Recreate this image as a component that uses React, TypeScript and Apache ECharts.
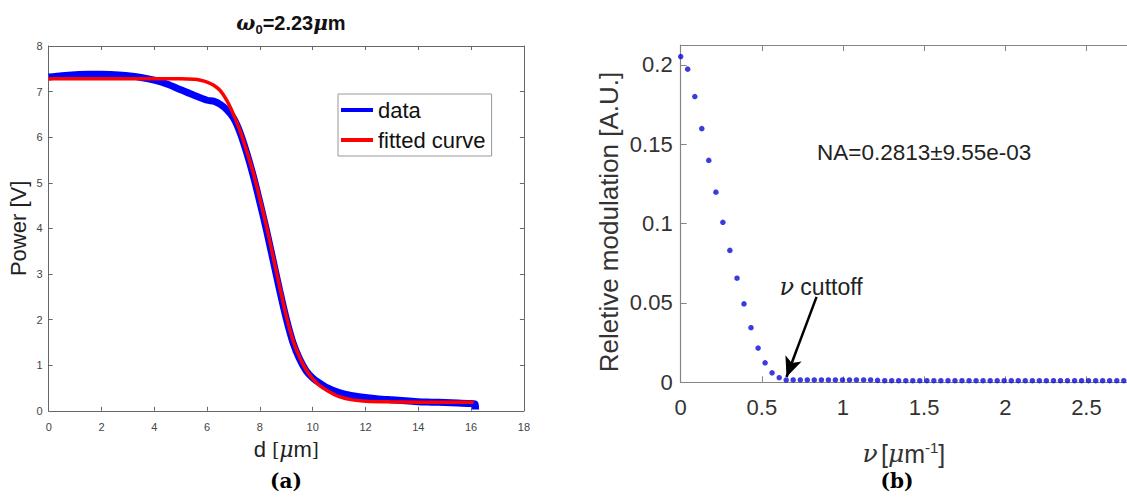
import React, { useEffect, useRef } from "react";
import * as echarts from "echarts";

const dataD = [0, 0.5, 1, 1.5, 2, 2.5, 3, 3.5, 4, 4.5, 5, 5.5, 6, 6.25, 6.5, 6.75, 7, 7.25, 7.5, 7.75, 8, 8.25, 8.5, 8.75, 9, 9.25, 9.5, 9.75, 10, 10.25, 10.5, 11, 11.5, 12, 12.5, 13, 13.5, 14, 14.5, 15, 15.5, 16, 16.15, 16.17];
const dataPower = [7.32, 7.35, 7.37, 7.38, 7.38, 7.37, 7.35, 7.31, 7.25, 7.16, 7.04, 6.92, 6.81, 6.79, 6.72, 6.6, 6.42, 6.1, 5.66, 5.15, 4.57, 3.96, 3.3, 2.64, 2.02, 1.5, 1.14, 0.88, 0.72, 0.61, 0.52, 0.4, 0.33, 0.29, 0.26, 0.24, 0.22, 0.2, 0.19, 0.18, 0.17, 0.16, 0.15, 0.03];

// (a) fitted curve
const fitD = [0, 1, 2, 3, 4, 5, 5.5, 5.75, 6, 6.25, 6.5, 6.75, 7, 7.25, 7.5, 7.75, 8, 8.25, 8.5, 8.75, 9, 9.25, 9.5, 9.75, 10, 10.25, 10.5, 11, 11.5, 12, 13, 14, 15, 16.1];
const fitPower = [7.28, 7.28, 7.28, 7.28, 7.28, 7.28, 7.27, 7.25, 7.21, 7.14, 7.02, 6.8, 6.5, 6.14, 5.7, 5.22, 4.65, 4.05, 3.38, 2.72, 2.08, 1.55, 1.18, 0.9, 0.7, 0.56, 0.46, 0.31, 0.24, 0.21, 0.195, 0.19, 0.19, 0.19];

// (b) relative modulation vs spatial frequency
const nu = [0, 0.043, 0.087, 0.13, 0.173, 0.217, 0.26, 0.303, 0.347, 0.39, 0.433, 0.477, 0.52, 0.563, 0.607, 0.65, 0.693, 0.737, 0.78, 0.823, 0.867, 0.91, 0.953, 0.997, 1.04, 1.083, 1.127, 1.17, 1.213, 1.257, 1.3, 1.343, 1.387, 1.43, 1.473, 1.517, 1.56, 1.603, 1.647, 1.69, 1.733, 1.777, 1.82, 1.863, 1.907, 1.95, 1.993, 2.037, 2.08, 2.123, 2.167, 2.21, 2.253, 2.297, 2.34, 2.383, 2.427, 2.47, 2.513, 2.557, 2.6, 2.643, 2.687, 2.73];
const modulation = [0.2052, 0.1973, 0.18, 0.1598, 0.1398, 0.1198, 0.1008, 0.0831, 0.0656, 0.0494, 0.0344, 0.0216, 0.0123, 0.006, 0.0029, 0.0014, 0.0015, 0.0015, 0.0015, 0.0015, 0.0015, 0.0015, 0.0015, 0.0015, 0.0015, 0.0015, 0.0015, 0.0015, 0.0012, 0.001, 0.001, 0.001, 0.001, 0.001, 0.001, 0.001, 0.001, 0.001, 0.001, 0.001, 0.001, 0.001, 0.001, 0.001, 0.001, 0.001, 0.001, 0.001, 0.001, 0.001, 0.001, 0.001, 0.001, 0.001, 0.001, 0.001, 0.001, 0.001, 0.001, 0.001, 0.001, 0.001, 0.001, 0.001];

export default function App() {
  const ref = useRef<HTMLDivElement>(null);
  useEffect(() => {
    const chart = echarts.init(ref.current as HTMLDivElement, null, { renderer: "svg" });
    const gA = "#666";
    const gB = "#858585";
    const sans = "Liberation Sans";
    const serif = "DejaVu Serif";
    const boxAxis = (gridIndex: number, position: string, min: number, max: number, interval: number, color: string, len: number) => ({
      type: "value",
      gridIndex,
      position,
      min,
      max,
      interval,
      axisLine: { show: true, onZero: false, lineStyle: { color, width: 1 } },
      axisTick: { show: true, inside: true, length: len, lineStyle: { color } },
      axisLabel: { show: false },
      splitLine: { show: false },
    });
    const option: any = {
      animation: false,
      backgroundColor: "#fff",
      title: {
        text: "{w|ω}{s|0}{b|=2.23}{w|μ}{b|m}",
        left: 286,
        top: 5,
        textAlign: "center",
        textStyle: {
          rich: {
            w: { fontFamily: serif, fontStyle: "italic", fontSize: 20, color: "#111" },
            s: { fontFamily: sans, fontWeight: "bold", fontSize: 13, color: "#111", padding: [13, 0, 0, 0] },
            b: { fontFamily: sans, fontWeight: "bold", fontSize: 20, color: "#111" },
          },
        },
      },
      legend: {
        data: ["data", "fitted curve"],
        orient: "vertical",
        left: 338,
        top: 94,
        padding: [5, 6, 5, 3],
        itemGap: 8,
        itemWidth: 32,
        itemHeight: 4,
        icon: "rect",
        borderColor: "#999",
        borderWidth: 1,
        backgroundColor: "#fff",
        textStyle: { fontSize: 22, color: "#111", fontFamily: sans },
      },
      grid: [
        { left: 48.7, top: 46, width: 475.2, height: 364.8 },
        { left: 680.7, top: 45, width: 454.6, height: 337.3 },
      ],
      xAxis: [
        {
          type: "value",
          gridIndex: 0,
          position: "bottom",
          min: 0,
          max: 18,
          interval: 2,
          axisLine: { show: true, onZero: false, lineStyle: { color: gA, width: 1 } },
          axisTick: { show: true, inside: true, length: 4, lineStyle: { color: gA } },
          axisLabel: { fontSize: 11, color: "#444", margin: 11, fontFamily: sans },
          splitLine: { show: false },
          name: "{t|d }{b|[}{m|μ}{t|m}{b|]}",
          nameLocation: "middle",
          nameGap: 28,
          nameTextStyle: {
            rich: {
              t: { fontFamily: sans, fontSize: 22, color: "#222" },
              b: { fontFamily: serif, fontSize: 18, color: "#222" },
              m: { fontFamily: serif, fontStyle: "italic", fontSize: 22, color: "#222" },
            },
          },
        },
        boxAxis(0, "top", 0, 18, 2, gA, 4),
        {
          type: "value",
          gridIndex: 1,
          position: "bottom",
          min: 0,
          max: 2.75,
          interval: 0.5,
          axisLine: { show: true, onZero: false, lineStyle: { color: gB, width: 1.2 } },
          axisTick: { show: true, inside: true, length: 6, lineStyle: { color: gB } },
          axisLabel: { fontSize: 22, color: "#333", margin: 14, fontFamily: sans, showMaxLabel: false },
          splitLine: { show: false },
          name: "{n|ν} {t|[}{m|μ}{t|m}{s|-1}{t|]}",
          nameLocation: "middle",
          nameGap: 58,
          nameTextStyle: {
            rich: {
              n: { fontFamily: serif, fontStyle: "italic", fontSize: 25, color: "#333" },
              t: { fontFamily: sans, fontSize: 25, color: "#333" },
              m: { fontFamily: serif, fontStyle: "italic", fontSize: 25, color: "#333" },
              s: { fontFamily: sans, fontSize: 15, color: "#333", padding: [0, 0, 12, 0] },
            },
          },
        },
        boxAxis(1, "top", 0, 2.75, 0.5, gB, 6),
      ],
      yAxis: [
        {
          type: "value",
          gridIndex: 0,
          position: "left",
          min: 0,
          max: 8,
          interval: 1,
          axisLine: { show: true, onZero: false, lineStyle: { color: gA, width: 1 } },
          axisTick: { show: true, inside: true, length: 4, lineStyle: { color: gA } },
          axisLabel: { fontSize: 11, color: "#444", margin: 6, fontFamily: sans },
          splitLine: { show: false },
          name: "Power [V]",
          nameLocation: "middle",
          nameGap: 19,
          nameTextStyle: { fontFamily: sans, fontSize: 22, color: "#222" },
        },
        boxAxis(0, "right", 0, 8, 1, gA, 4),
        {
          type: "value",
          gridIndex: 1,
          position: "left",
          min: 0,
          max: 0.2125,
          interval: 0.05,
          axisLine: { show: true, onZero: false, lineStyle: { color: gB, width: 1.2 } },
          axisTick: { show: true, inside: true, length: 6, lineStyle: { color: gB } },
          axisLabel: { fontSize: 22, color: "#333", margin: 8, fontFamily: sans, showMaxLabel: false },
          splitLine: { show: false },
        },
      ],
      series: [
        {
          type: "line",
          name: "data",
          xAxisIndex: 0,
          yAxisIndex: 0,
          data: dataD.map((d, i) => [d, dataPower[i]]),
          symbol: "none",
          smooth: 0.25,
          lineStyle: { color: "#0000ff", width: 7 },
          itemStyle: { color: "#0000ff" },
        },
        {
          type: "line",
          name: "fitted curve",
          xAxisIndex: 0,
          yAxisIndex: 0,
          data: fitD.map((d, i) => [d, fitPower[i]]),
          symbol: "none",
          smooth: 0.3,
          lineStyle: { color: "#ff0000", width: 3.5 },
          itemStyle: { color: "#ff0000" },
        },
        {
          type: "scatter",
          name: "modulation",
          xAxisIndex: 2,
          yAxisIndex: 2,
          data: nu.map((v, i) => [v, modulation[i]]),
          symbolSize: 5.5,
          itemStyle: { color: "#0a0ad8" },
          markLine: {
            silent: true,
            symbol: ["none", "arrow"],
            symbolSize: [13, 20],
            label: { show: false },
            lineStyle: { color: "#000", width: 2.5, type: "solid" },
            data: [[{ coord: [0.837, 0.0538] }, { coord: [0.652, 0.0033] }]],
          },
        },
      ],
      graphic: [
        {
          type: "text",
          x: 609,
          y: 222,
          rotation: Math.PI / 2,
          style: { text: "Reletive modulation [A.U.]", fontFamily: sans, fontSize: 26, fill: "#333", align: "center", verticalAlign: "middle" },
        },
        {
          type: "text",
          x: 817,
          y: 152,
          style: { text: "NA=0.2813±9.55e-03", fontFamily: sans, fontSize: 22.5, fill: "#222", align: "left", verticalAlign: "middle" },
        },
        {
          type: "text",
          x: 821,
          y: 287,
          style: {
            text: "{n|ν} cuttoff",
            fontFamily: sans,
            fontSize: 23,
            fill: "#222",
            align: "center",
            verticalAlign: "middle",
            rich: { n: { fontFamily: serif, fontStyle: "italic", fontSize: 24, fill: "#222" } },
          },
        },
        {
          type: "text",
          x: 286,
          y: 481,
          style: { text: "(a)", fontFamily: serif, fontWeight: "bold", fontSize: 20, fill: "#000", align: "center", verticalAlign: "middle" },
        },
        {
          type: "text",
          x: 897,
          y: 481,
          style: { text: "(b)", fontFamily: serif, fontWeight: "bold", fontSize: 20, fill: "#000", align: "center", verticalAlign: "middle" },
        },
      ],
    };
    chart.setOption(option);
    return () => chart.dispose();
  }, []);
  return <div ref={ref} style={{ position: "absolute", left: 0, top: 0, width: 1127, height: 501, background: "#fff" }} />;
}
